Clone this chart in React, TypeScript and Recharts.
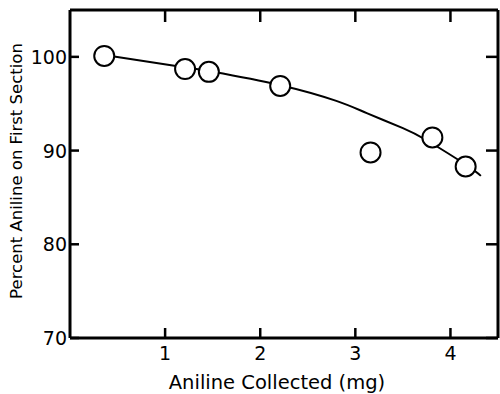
import { ComposedChart, Line, Scatter, XAxis, YAxis, ReferenceLine } from "recharts";

// measured points (mg collected, % on first section)
const sampleMg = [0.36, 1.21, 1.46, 2.21, 3.16, 3.81, 4.16];
const samplePct = [100.1, 98.7, 98.4, 96.9, 89.8, 91.4, 88.3];

// hand-drawn fit curve
const fitMg = [0.36, 1.2, 1.5, 2.2, 2.8, 3.12, 3.5, 3.75, 4.16, 4.32];
const fitPct = [100.2, 98.9, 98.4, 97.0, 95.3, 94.0, 92.4, 91.1, 88.5, 87.3];

const xTicks = [1, 2, 3, 4];
const yTicks = [70, 80, 90, 100];

const points = sampleMg.map((x, i) => ({ x, y: samplePct[i] }));
const curve = fitMg.map((x, i) => ({ x, y: fitPct[i] }));

const FONT = "'DejaVu Sans', sans-serif";
const INK = "#000";
const frame = { stroke: INK, strokeWidth: 3 };

const BottomLabel = ({ x, y, payload }: any) => (
  <text x={x} y={y + 22} textAnchor="middle" fontSize={19} fontFamily={FONT} fill={INK}>
    {payload.value}
  </text>
);

const LeftLabel = ({ x, y, payload }: any) => (
  <text
    x={x}
    y={y}
    textAnchor="end"
    dominantBaseline="central"
    fontSize={19}
    fontFamily={FONT}
    fill={INK}
  >
    {payload.value}
  </text>
);

// inward tick marks at both ends of a grid position
const VTicks = ({ x1, y1, y2 }: any) => {
  const top = Math.min(y1, y2);
  const bot = Math.max(y1, y2);
  return (
    <g>
      <line x1={x1} y1={top} x2={x1} y2={top + 12} stroke={INK} strokeWidth={2.5} />
      <line x1={x1} y1={bot} x2={x1} y2={bot - 10} stroke={INK} strokeWidth={2.5} />
    </g>
  );
};

const HTicks = ({ x1, x2, y1 }: any) => {
  const l = Math.min(x1, x2);
  const r = Math.max(x1, x2);
  return (
    <g>
      <line x1={l} y1={y1} x2={l + 9} y2={y1} stroke={INK} strokeWidth={2.5} />
      <line x1={r} y1={y1} x2={r - 12} y2={y1} stroke={INK} strokeWidth={2.5} />
    </g>
  );
};

const Ring = ({ cx, cy }: any) => (
  <circle cx={cx} cy={cy} r={10} fill="#fff" stroke={INK} strokeWidth={2} />
);

export default function App() {
  return (
    <div style={{ position: "absolute", left: 0, top: 0, background: "#fff" }}>
      <ComposedChart width={500} height={394} margin={{ top: 9, right: 1, bottom: 0, left: 0 }}>
        <XAxis
          xAxisId="b"
          dataKey="x"
          type="number"
          domain={[0, 4.5]}
          ticks={xTicks}
          orientation="bottom"
          height={56}
          tickSize={0}
          tickMargin={0}
          tickLine={false}
          axisLine={frame}
          tick={<BottomLabel />}
          label={{
            content: () => (
              <text x={277} y={389} textAnchor="middle" fontSize={19.5} fontFamily={FONT} fill={INK}>
                Aniline Collected (mg)
              </text>
            ),
          }}
        />
        <XAxis
          xAxisId="t"
          dataKey="x"
          type="number"
          domain={[0, 4.5]}
          orientation="top"
          height={1}
          tickLine={false}
          axisLine={frame}
          tick={false}
        />
        <YAxis
          yAxisId="l"
          dataKey="y"
          type="number"
          domain={[70, 105]}
          ticks={yTicks}
          orientation="left"
          width={70}
          tickSize={0}
          tickMargin={3}
          tickLine={false}
          axisLine={frame}
          tick={<LeftLabel />}
          label={{
            content: () => (
              <text
                x={22}
                y={171}
                transform="rotate(-90, 22, 171)"
                textAnchor="middle"
                fontSize={16.5}
                fontFamily={FONT}
                fill={INK}
              >
                Percent Aniline on First Section
              </text>
            ),
          }}
        />
        <YAxis
          yAxisId="r"
          dataKey="y"
          type="number"
          domain={[70, 105]}
          orientation="right"
          width={1}
          tickLine={false}
          axisLine={frame}
          tick={false}
        />
        {xTicks.map((v) => (
          <ReferenceLine key={`x${v}`} xAxisId="b" yAxisId="l" x={v} shape={<VTicks />} />
        ))}
        {yTicks.map((v) => (
          <ReferenceLine key={`y${v}`} xAxisId="b" yAxisId="l" y={v} shape={<HTicks />} />
        ))}
        <Line
          xAxisId="b"
          yAxisId="l"
          data={curve}
          dataKey="y"
          type="natural"
          stroke={INK}
          strokeWidth={2}
          dot={false}
          activeDot={false}
          isAnimationActive={false}
        />
        <Scatter
          xAxisId="b"
          yAxisId="l"
          data={points}
          dataKey="y"
          shape={<Ring />}
          isAnimationActive={false}
        />
      </ComposedChart>
    </div>
  );
}
